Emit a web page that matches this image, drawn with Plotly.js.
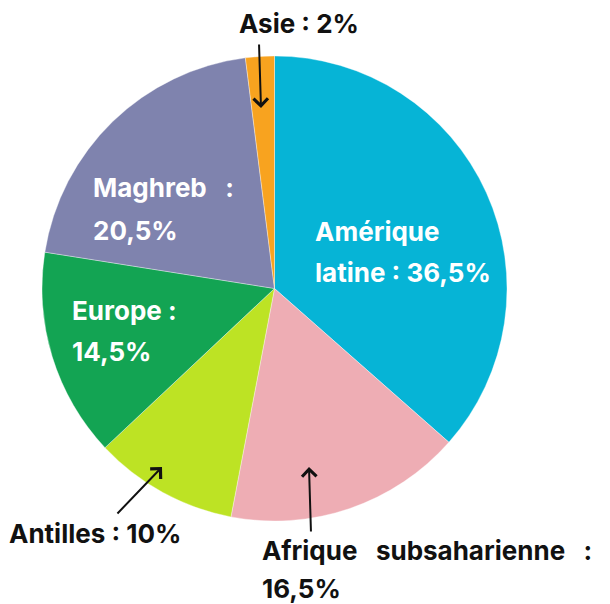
<!DOCTYPE html>
<html>
<head>
<meta charset="utf-8">
<script src="https://cdn.plot.ly/plotly-3.0.1.min.js"></script>
<style>html,body{margin:0;padding:0;background:#fff;}#chart{width:610px;height:604px;}</style>
</head>
<body>
<div id="chart"></div>
<script>
const categories = ['Amérique latine', 'Afrique subsaharienne', 'Antilles', 'Europe', 'Maghreb', 'Asie'];
const values = [36.5, 16.5, 10, 14.5, 20.5, 2];
const valueLabels = ['36,5%', '16,5%', '10%', '14,5%', '20,5%', '2%'];
const labelLines = [
  ['Amérique', 'latine : ' + valueLabels[0]],
  ['Afrique\u00a0\u00a0 subsaharienne\u00a0\u00a0 :', valueLabels[1]],
  ['Antilles : ' + valueLabels[2]],
  ['Europe :', valueLabels[3]],
  ['Maghreb\u00a0\u00a0 :', valueLabels[4]],
  ['Asie : ' + valueLabels[5]]
];
const colors = ['#06B4D6', '#EEADB4', '#BDE324', '#13A453', '#7F83AE', '#F8A31F'];

const W = 610, H = 604;
const px = x => x / W;
const py = y => 1 - y / H;

// label placement (pixels): left x, centre y of each line, inside?
const place = [
  {x: 313, ys: [232, 272], inside: true},
  {x: 260, ys: [550, 588], inside: false, arrow: {hx: 309, hy: 467, tx: 311, ty: 533}},
  {x: 7,   ys: [533], inside: false, arrow: {hx: 162, hy: 467, tx: 116, ty: 515}},
  {x: 70,  ys: [310, 351], inside: true},
  {x: 91,  ys: [187, 230], inside: true},
  {x: 237, ys: [24], inside: false, arrow: {hx: 261, hy: 108, tx: 259, ty: 43}}
];

const fontFamily = 'Inter, "Open Sans", sans-serif';
const annotations = [];
categories.forEach((c, i) => {
  const p = place[i];
  labelLines[i].forEach((t, j) => {
    annotations.push({
      xref: 'paper', yref: 'paper', x: px(p.x), y: py(p.ys[j]),
      xanchor: 'left', yanchor: 'middle', showarrow: false, text: t,
      font: {family: fontFamily, size: 26, weight: 700, color: p.inside ? '#ffffff' : '#111111'}
    });
  });
  if (p.arrow) {
    const a = p.arrow;
    annotations.push({
      xref: 'paper', yref: 'paper', x: px(a.hx), y: py(a.hy),
      ax: a.tx - a.hx, ay: a.ty - a.hy, text: '', showarrow: true,
      arrowhead: 4, arrowsize: 1.4, arrowwidth: 2, arrowcolor: '#111111'
    });
  }
});

const data = [{
  type: 'pie',
  labels: categories,
  values: values,
  sort: false,
  direction: 'clockwise',
  rotation: 0,
  textinfo: 'none',
  hoverinfo: 'label+percent',
  marker: {colors: colors, line: {color: 'rgba(255,255,255,0.6)', width: 0.6}},
  domain: {x: [px(42), px(507)], y: [py(521), py(56)]},
  showlegend: false
}];

const layout = {
  width: W, height: H,
  margin: {l: 0, r: 0, t: 0, b: 0},
  paper_bgcolor: '#ffffff',
  showlegend: false,
  annotations: annotations
};

Plotly.newPlot('chart', data, layout, {displayModeBar: false, staticPlot: true});
</script>
</body>
</html>
